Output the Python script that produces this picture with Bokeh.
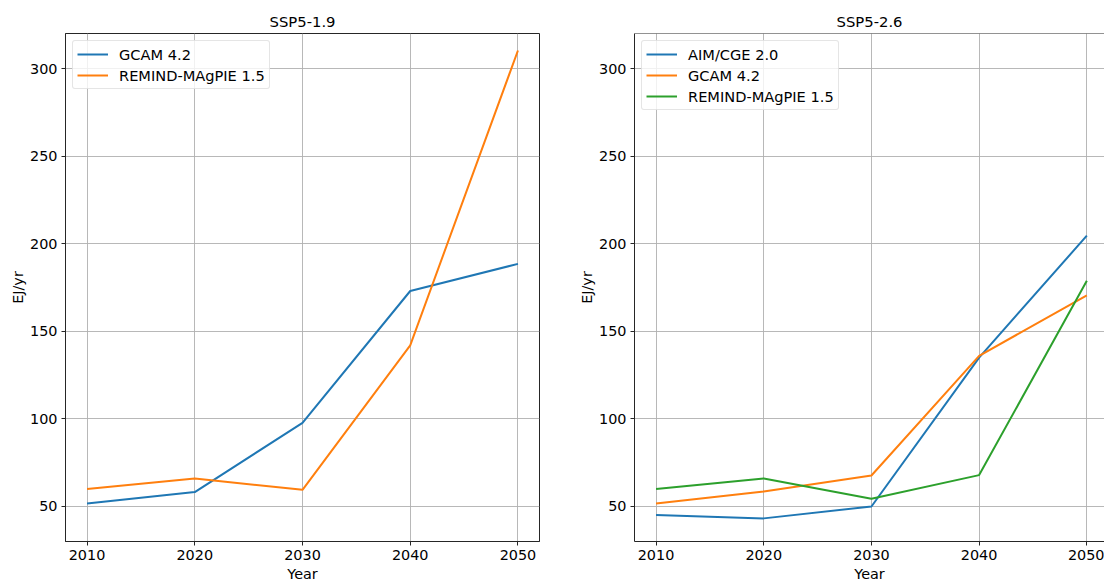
from bokeh.plotting import figure
from bokeh.layouts import row
from bokeh.models import FixedTicker, Range1d, Span
from bokeh.embed import file_html
from bokeh.resources import INLINE

# ---- data ----
years = [2010, 2020, 2030, 2040, 2050]

ssp19_title = "SSP5-1.9"
ssp19_models = ["GCAM 4.2", "REMIND-MAgPIE 1.5"]
ssp19_gcam = [51.7, 58.2, 97.7, 173.0, 188.5]
ssp19_remind = [60.0, 66.0, 59.5, 142.0, 310.3]

ssp26_title = "SSP5-2.6"
ssp26_models = ["AIM/CGE 2.0", "GCAM 4.2", "REMIND-MAgPIE 1.5"]
ssp26_aim = [45.1, 43.2, 50.0, 135.0, 204.6]
ssp26_gcam = [51.7, 58.6, 67.7, 136.0, 170.5]
ssp26_remind = [60.0, 66.0, 54.4, 67.9, 178.8]

x_ticks = [2010, 2020, 2030, 2040, 2050]
y_ticks = [50, 100, 150, 200, 250, 300]

colors = ["#1f77b4", "#ff7f0e", "#2ca02c"]
FONT = "DejaVu Sans"
FS = "14.4px"
LEG_FS = "14.6px"
TITLE_FS = "14.8px"
SPINE = "#262626"


def make_fig(title, width, x_end, mb_left, mb_right):
    p = figure(width=width, height=584, output_backend="svg", toolbar_location=None,
               x_range=Range1d(2008, x_end), y_range=Range1d(30, 320),
               min_border_left=mb_left, min_border_right=mb_right,
               min_border_top=33, min_border_bottom=40,
               background_fill_color="white", border_fill_color="white")
    p.title.text = title
    p.title.align = "center"
    p.title.text_font = FONT
    p.title.text_font_size = TITLE_FS
    p.title.text_font_style = "normal"
    p.title.text_color = "black"
    p.title.standoff = 7
    p.outline_line_color = SPINE
    p.outline_line_width = 1
    p.outline_line_alpha = 1
    for ax in (p.xaxis[0], p.yaxis[0]):
        ax.axis_line_color = SPINE
        ax.axis_line_width = 1
        ax.major_tick_line_color = SPINE
        ax.major_tick_in = 0
        ax.major_tick_out = 4
        ax.minor_tick_line_color = None
        ax.major_label_text_font = FONT
        ax.major_label_text_font_size = FS
        ax.major_label_text_color = "black"
        ax.axis_label_text_font = FONT
        ax.axis_label_text_font_size = FS
        ax.axis_label_text_font_style = "normal"
        ax.axis_label_text_color = "black"
        ax.major_label_standoff = 4
    p.xaxis.ticker = FixedTicker(ticks=x_ticks)
    p.yaxis.ticker = FixedTicker(ticks=y_ticks)
    p.xaxis.axis_label = "Year"
    p.yaxis.axis_label = "EJ/yr"
    p.xaxis.axis_label_standoff = 3
    p.yaxis.axis_label_standoff = 1
    p.grid.grid_line_color = "#b0b0b0"
    p.grid.grid_line_width = 0.9
    return p


def style_legend(p):
    lg = p.legend[0]
    lg.location = "top_left"
    lg.margin = 7
    lg.padding = 4
    lg.spacing = 3
    lg.glyph_width = 31
    lg.glyph_height = 18
    lg.label_height = 18
    lg.label_standoff = 11
    lg.label_text_font = FONT
    lg.label_text_font_size = LEG_FS
    lg.label_text_color = "black"
    lg.border_line_color = "#cccccc"
    lg.border_line_width = 1
    lg.background_fill_alpha = 0.8
    if "border_radius" in lg.properties():
        lg.border_radius = 3


p1 = make_fig(ssp19_title, 570, 2052, 65, 31)
p1.line(years, ssp19_gcam, line_color=colors[0], line_width=2, legend_label=ssp19_models[0])
p1.line(years, ssp19_remind, line_color=colors[1], line_width=2, legend_label=ssp19_models[1])
style_legend(p1)

p2 = make_fig(ssp26_title, 534, 2051.64, 64, 0)
p2.title.offset = 2
p2.outline_line_color = None
p2.add_layout(Span(location=320, dimension="width", line_color=SPINE, line_width=1))
p2.line(years, ssp26_aim, line_color=colors[0], line_width=2, legend_label=ssp26_models[0])
p2.line(years, ssp26_gcam, line_color=colors[1], line_width=2, legend_label=ssp26_models[1])
p2.line(years, ssp26_remind, line_color=colors[2], line_width=2, legend_label=ssp26_models[2])
style_legend(p2)

layout = row(p1, p2)
open("out.html", "w").write(file_html(layout, INLINE))
